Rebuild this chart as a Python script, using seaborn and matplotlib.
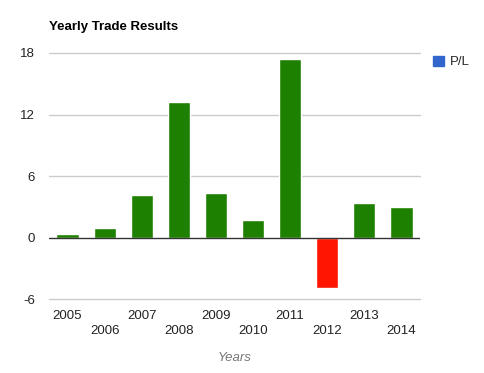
import matplotlib
matplotlib.use('Agg')
import matplotlib.pyplot as plt
import matplotlib.patches as mpatches
import seaborn as sns
import pandas as pd

years = ['2005', '2006', '2007', '2008', '2009', '2010', '2011', '2012', '2013', '2014']
pl_values = [0.32, 0.98, 4.2, 13.2, 4.3, 1.76, 17.4, -4.96, 3.33, 2.94]
y_ticks = [-6, 0, 6, 12, 18]

GREEN = '#1e8000'
RED = '#ff1500'
BLUE = '#3366cc'

df = pd.DataFrame({'year': years, 'pl': pl_values})
palette = {y: (GREEN if v >= 0 else RED) for y, v in zip(years, pl_values)}

sns.set_style('white')
plt.rcParams['font.family'] = ['Liberation Sans', 'DejaVu Sans']

fig = plt.figure(figsize=(4.85, 3.73), dpi=100)
ax = fig.add_axes([0.101, 0.198, 0.765, 0.66])

sns.barplot(data=df, x='year', y='pl', hue='year', palette=palette,
            width=0.6, legend=False, ax=ax, saturation=1)

ax.set_ylim(-6, 18)
ax.set_xlim(-0.5, len(years) - 0.5)
ax.set_yticks(y_ticks)
ax.set_yticklabels([str(t) for t in y_ticks])
for t in y_ticks:
    if t != 0:
        ax.axhline(t, color='#cccccc', linewidth=1, zorder=0, clip_on=False)
ax.axhline(0, color='#333333', linewidth=1, zorder=3)

# alternate tick labels on two rows, like the original chart
labels = [y if i % 2 == 0 else '\n' + y for i, y in enumerate(years)]
ax.set_xticks(range(len(years)))
ax.set_xticklabels(labels, fontsize=9.5, color='#222222', linespacing=1.3)
ax.tick_params(axis='y', labelsize=9.5, colors='#222222', length=0, pad=10)
ax.tick_params(axis='x', length=0, pad=8)
for s in ax.spines.values():
    s.set_visible(False)

ax.set_ylabel('')
ax.set_xlabel('Years', fontsize=9.5, style='italic', color='#777777', labelpad=11)

fig.text(0.101, 0.92, 'Yearly Trade Results', fontsize=9.5, fontweight='bold', color='black')

handle = mpatches.Patch(color=BLUE, label='P/L')
fig.legend(handles=[handle], loc='upper left', bbox_to_anchor=(0.882, 0.865),
           frameon=False, fontsize=9.5, handlelength=0.8, handleheight=0.8,
           handletextpad=0.5, borderaxespad=0)

fig.savefig('out.png', dpi=100)
